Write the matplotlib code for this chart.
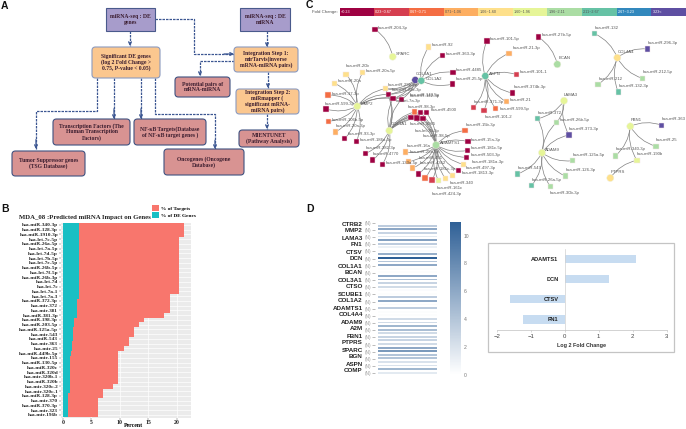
import numpy as np
import matplotlib
matplotlib.use("Agg")
import matplotlib.pyplot as plt
from matplotlib.colors import LinearSegmentedColormap, Normalize
from matplotlib.patches import FancyBboxPatch, Rectangle
from matplotlib.cm import ScalarMappable

W, H = 686, 429
SERIF = "Liberation Serif"
SANS = "Liberation Sans"

# ---- panel B data
mir_names = ["hsa-miR-340-3p", "hsa-miR-128-3p", "hsa-miR-1910-3p", "hsa-let-7c-5p", "hsa-miR-26a-5p",
             "hsa-let-7a-5p", "hsa-let-7d-5p", "hsa-let-7b-5p", "hsa-let-7e-5p", "hsa-miR-26b-5p",
             "hsa-let-7f-5p", "hsa-miR-26b-3p", "hsa-let-7d", "hsa-let-7c", "hsa-let-7a-1", "hsa-let-7a-3",
             "hsa-miR-372-3p", "hsa-mir-372", "hsa-mir-381", "hsa-miR-381-3p", "hsa-miR-198-3p",
             "hsa-miR-203-5p", "hsa-miR-125a-5p", "hsa-mir-543", "hsa-miR-543", "hsa-mir-363", "hsa-mir-25",
             "hsa-miR-449b-5p", "hsa-mir-155", "hsa-miR-130-5p", "hsa-miR-320c", "hsa-miR-320d",
             "hsa-mir-320b-1", "hsa-miR-320b", "hsa-mir-320c-2", "hsa-mir-320c-1", "hsa-miR-128-3p",
             "hsa-mir-370", "hsa-miR-370-3p", "hsa-mir-323", "hsa-mir-196b"]
pct_targets_end = [21.3, 21.3, 21.3, 20.5, 20.5, 20.5, 20.5, 20.5, 20.5, 20.5, 20.5, 20.5, 20.5, 20.5, 20.5,
                   18.8, 18.8, 18.8, 18.8, 17.8, 14.2, 13.4, 12.5, 12.5, 11.6, 11.6, 10.7, 9.7, 9.7, 9.7,
                   9.7, 9.7, 9.7, 9.7, 8.8, 7.0, 7.0, 6.1, 6.1, 6.1, 6.1]
pct_de_genes = [2.9, 2.9, 2.9, 2.9, 2.9, 2.9, 2.9, 2.9, 2.9, 2.75, 2.75, 2.75, 2.75, 2.75, 2.75, 2.75,
                2.45, 2.45, 2.45, 2.45, 2.0, 1.9, 1.8, 1.8, 1.7, 1.6, 1.55, 1.4, 1.3, 1.25,
                1.25, 1.25, 1.25, 1.25, 1.2, 1.15, 0.95, 0.8, 0.8, 0.8, 0.8]

# ---- panel D data
heat_genes = ["CTRB2", "MMP2", "LAMA3", "FN1", "CTSV", "DCN", "COL1A1", "BCAN", "COL3A1", "CTSO", "SCUBE1",
              "COL1A2", "ADAMTS1", "COL4A4", "ADAM9", "A2M", "FBN1", "PTPRS", "SPARC", "BGN", "ASPN", "COMP"]
heat_values = [3.5, 6, 3, 1.5, 6.5, 3.5, 1, 0.3, 5.5, 11, 4, 6, 0.2, 0.2, 6, 4.5, 3, 2.5, 0.3, 0.2, 3.5,
               6, 0.3, 3.5, 0.2, 0.2, 2.5, 2.5, 5, 4.5, 2.5, 3, 3, 2.5, 6, 7, 4, 4, 2, 2, 5, 1.5]
fc_genes = ["ADAMTS1", "DCN", "CTSV", "FN1"]
fc_values = [2.1, 1.3, -1.6, -1.23]

# ---- panel C data
fold_labels = ["<0.23", "0.23~0.67", "0.67~0.71", "0.71~1.06", "1.06~1.60", "1.60~1.96", "1.96~2.11",
               "2.11~2.67", "2.67~3.23", "3.23<"]
fold_colors = ["#9E0142", "#D53E4F", "#F46D43", "#FDAE61", "#FEE08B", "#E6F598", "#ABDDA4", "#66C2A5",
               "#3288BD", "#5E4FA2"]

gene_names = ["SPARC", "COL3A1", "COL1A2", "MMP2", "COL1A1", "ADAMTS1", "ASPN", "BCAN", "COL4A4", "LAMA3",
              "ADAM9", "FBN1", "PTPRS"]
gene_x = [392.7, 415.3, 421.3, 357.3, 389.3, 436, 485.3, 557.3, 617.3, 564, 542, 630.3, 610.3]
gene_y = [56.7, 80, 80.7, 106.3, 130.7, 145, 76, 64.3, 57.7, 100.7, 152.7, 126.3, 178]
gene_bin = [5, 9, 7, 5, 5, 6, 7, 6, 4, 5, 5, 5, 4]
gene_lx = [396, 416, 425.7, 361, 390.7, 440, 489, 558.3, 618, 564, 545.3, 630.3, 610.7]
gene_ly = [54, 73.7, 79.3, 103.7, 124.3, 142.7, 73.7, 58.3, 52, 95, 150, 120.3, 172]

node_names = ["hsa-miR-204-3p", "hsa-miR-92", "hsa-miR-363-3p", "hsa-miR-4485", "hsa-miR-25-5p",
              "hsa-miR-20b", "hsa-miR-20a-5p", "hsa-miR-20a", "hsa-miR-17-3p", "hsa-miR-599-3p",
              "hsa-miR-106b-5p", "hsa-miR-20a-3p", "hsa-miR-93-3p", "hsa-miR-186a-3p",
              "hsa-miR-382-3p", "hsa-miR-4770", "hsa-miR-133a-5p",
              "hsa-miR-29b-3p", "hsa-miR-29c-3p", "hsa-miR-143-5p", "hsa-let-7a-3p", "hsa-miR-98-3p",
              "hsa-miR-4500", "hsa-miR-3065", "hsa-let-7b-3p", "hsa-miR-98-5p", "hsa-miR-142-3p",
              "hsa-miR-15b-3p", "hsa-miR-15a-3p", "hsa-miR-181c-5p", "hsa-miR-503-3p", "hsa-miR-181a-3p",
              "hsa-miR-497-3p", "hsa-miR-1813-3p", "hsa-miR-340", "hsa-miR-161c", "hsa-miR-424-3p",
              "hsa-miR-181c-3p", "hsa-miR-4352", "hsa-miR-491", "hsa-miR-25a-5p", "hsa-miR-16a",
              "hsa-miR-371-3p", "hsa-miR-101-2", "hsa-miR-599-5p", "hsa-miR-21", "hsa-miR-374b-3p",
              "hsa-miR-101-1", "hsa-miR-21-3p", "hsa-miR-101-5p", "hsa-miR-27b-5p",
              "hsa-miR-132", "hsa-miR-296-3p", "hsa-miR-212-5p", "hsa-miR-132-3p", "hsa-miR-212",
              "hsa-miR-372", "hsa-miR-26b-5p", "hsa-miR-373-3p", "hsa-miR-125a-5p", "hsa-miR-126-3p",
              "hsa-miR-30b-3p", "hsa-miR-26a-5p", "hsa-miR-543",
              "hsa-miR-363", "hsa-miR-25", "hsa-miR-340-3p", "hsa-miR-190b"]
node_x = [375, 428.7, 442.7, 453, 452.3, 346, 362.7, 334.3, 328, 326, 328.7, 335.3, 344.7, 356.3,
          365.7, 372.7, 382.3, 385.3, 388.3, 393, 401.7, 414.3, 426.3, 411, 417, 423, 420.3,
          465, 468, 467.7, 466.3, 463.3, 458.3, 452.3, 445.7, 438.3, 432, 425, 418.3, 412.7, 408.3, 405.7,
          473.7, 484, 495.7, 506.3, 512.7, 516.7, 509, 487, 538.3,
          594.7, 647.3, 642.3, 618.3, 598, 537.7, 556.7, 569, 572.3, 565.3, 550.3, 531.7, 517.3,
          661.7, 656, 615.3, 637]
node_y = [29.3, 47, 55.3, 72.3, 84, 74.3, 72.7, 83.3, 95, 109, 121.3, 132, 138.7, 141.7,
          153.3, 160, 164.3, 88.7, 94.3, 98.7, 99.3, 112, 112.7, 117.3, 118, 118.3, 112.3,
          130.7, 141.7, 150.3, 157.3, 164.3, 170.7, 175.7, 178.7, 180.3, 180, 178, 174, 168, 161.7, 152,
          107.3, 110.3, 108.3, 101.7, 93, 74.7, 53.3, 41, 37,
          33.7, 49, 78.3, 92, 84.3, 118.7, 122.3, 135, 160.7, 176, 186.3, 185.3, 174,
          125.3, 146.3, 156, 160.3]
node_bin = [0, 4, 0, 0, 0, 4, 4, 4, 2, 0, 2, 3, 0, 0,
            0, 0, 0, 4, 0, 0, 0, 2, 0, 0, 0, 0, 0,
            2, 0, 0, 0, 4, 0, 4, 4, 5, 1, 2, 0, 3, 3, 3,
            1, 1, 2, 3, 0, 1, 3, 0, 0,
            7, 9, 6, 7, 6, 7, 6, 9, 6, 6, 6, 7, 7,
            9, 6, 6, 5]
node_lx = [378, 432, 446, 456, 456, 346, 366, 337.3, 331.3, 324.3, 332, 336, 348, 359.7,
           366, 373, 385.7, 387.7, 391.7, 410, 396, 408, 430.7, 410, 415, 422.3, 410,
           465.3, 471, 471, 471, 471.7, 465.7, 461.7, 449.3, 436.7, 431.7, 423.3, 420, 418.3, 409.3, 406.7,
           474, 485, 499.3, 510, 513.3, 520, 512.3, 490, 542,
           595, 647.7, 642.7, 618.3, 598.3, 538, 560, 569, 572.3, 565.3, 550, 531.7, 517.7,
           662, 656, 616, 637]
node_ly = [27.7, 45.3, 53.7, 70, 79, 65.7, 71, 81.3, 93.7, 103.7, 119.7, 126, 133.7, 140,
           148, 154, 163, 85, 90, 94.7, 101, 106.7, 109.7, 124.3, 130.7, 136.3, 96,
           124.7, 139.7, 147.7, 155, 161.7, 167.7, 173, 182.7, 188.3, 194, 169.3, 163.3, 157.7, 152, 146.3,
           101.7, 117.3, 108.7, 99.7, 87, 72.3, 48, 39, 35,
           28.3, 42.7, 72.3, 86, 78.7, 113, 120, 128.7, 155, 170.3, 193, 179.7, 168.3,
           119.3, 140.3, 149, 154.3]
# which gene each miRNA is drawn to
node_gene = ["SPARC", "COL1A2", "COL1A2", "COL1A2", "COL1A2", "MMP2", "MMP2", "MMP2", "MMP2", "MMP2",
             "MMP2", "MMP2", "MMP2", "MMP2", "COL1A1", "COL1A1", "COL1A1",
             "COL1A1", "COL1A1", "COL1A1", "COL1A1", "COL1A1", "COL1A1", "COL1A1", "COL1A1", "COL1A1", "COL1A1",
             "ADAMTS1", "ADAMTS1", "ADAMTS1", "ADAMTS1", "ADAMTS1", "ADAMTS1", "ADAMTS1", "ADAMTS1", "ADAMTS1",
             "ADAMTS1", "ADAMTS1", "ADAMTS1", "ADAMTS1", "ADAMTS1", "ADAMTS1",
             "ASPN", "ASPN", "ASPN", "ASPN", "ASPN", "ASPN", "ASPN", "ASPN", "BCAN",
             "COL4A4", "COL4A4", "COL4A4", "COL4A4", "COL4A4",
             "LAMA3", "ADAM9", "ADAM9", "ADAM9", "ADAM9", "ADAM9", "ADAM9", "ADAM9",
             "FBN1", "FBN1", "FBN1", "FBN1"]
extra_from = ["hsa-miR-29b-3p", "hsa-miR-29c-3p", "hsa-miR-143-5p", "hsa-let-7a-3p", "hsa-miR-29b-3p",
              "hsa-miR-29c-3p", "hsa-miR-143-5p", "hsa-let-7a-3p", "hsa-miR-29b-3p", "hsa-miR-29c-3p",
              "hsa-miR-143-5p", "hsa-miR-98-3p", "hsa-miR-142-3p", "hsa-miR-4500", "hsa-miR-3065",
              "hsa-let-7b-3p", "hsa-miR-98-5p", "hsa-miR-372", "hsa-miR-373-3p", "hsa-miR-26b-5p",
              "hsa-miR-190b"]
extra_to = ["COL3A1", "COL3A1", "COL3A1", "COL3A1", "MMP2", "MMP2", "MMP2", "MMP2", "COL1A2", "COL1A2",
            "COL1A2", "ADAMTS1", "ADAMTS1", "ADAMTS1", "ADAMTS1", "ADAMTS1", "ADAMTS1", "ADAM9", "LAMA3",
            "LAMA3", "PTPRS"]

# ---- panel A flow chart
flow_texts = ["miRNA-seq : DE\ngenes", "miRNA-seq : DE\nmiRNA",
              "Significant DE genes\n(log 2 Fold Change >\n0.75, P-value < 0.05)",
              "Integration Step 1:\nmirTarvis(inverse\nmRNA-miRNA pairs)", "Potential pairs of\nmRNA-miRNA",
              "Integration Step 2:\nmiRmapper (\nsignificant mRNA-\nmiRNA pairs)",
              "MIENTUNET\n(Pathway Analysis)", "Transcription Factors (The\nHuman Transcription\nFactors)",
              "NF-\u03baB Targets(Database\nof NF-\u03baB target genes )", "Tumor Suppressor genes\n(TSG Database)",
              "Oncogenes (Oncogene\nDatabase)"]
flow_boxes = [(106, 8, 155, 31), (240, 8, 290, 31), (92, 47, 160, 78), (234, 47, 298, 72), (175, 77, 230, 97),
              (236, 89, 299, 114), (239, 130, 299, 147), (53, 119, 130, 145), (134, 119, 206, 145),
              (12, 151, 85, 176), (164, 149, 244, 175)]
flow_kinds = ["seq", "seq", "step", "step", "out", "step", "out", "out", "out", "out", "out"]
flow_paths = [[(130, 31), (130, 46)], [(155, 19), (194, 19), (194, 54), (234, 54)], [(267, 31), (267, 47)],
              [(234, 61), (200, 61), (200, 76)], [(268, 72), (268, 88)], [(267, 114), (267, 129)],
              [(97, 78), (97, 111), (36, 111), (36, 149)], [(114, 78), (114, 119)], [(141, 78), (141, 119)],
              [(155, 78), (155, 114), (215, 114), (215, 149)]]


def px_axes(fig, x0, y0, x1, y1):
    return fig.add_axes([x0 / W, 1 - y1 / H, (x1 - x0) / W, (y1 - y0) / H])


def draw_flow(ax):
    fills = {"seq": ("#A79CCB", "#4A5A8C"), "step": ("#FBC78F", "#8C9BBF"), "out": ("#D89392", "#3F5180")}
    for path in flow_paths:
        xs = [p[0] for p in path]
        ys = [p[1] for p in path]
        ax.plot(xs, ys, color="#3C5792", lw=0.9, ls=(0, (2, 0.8)))
        ax.annotate("", xy=path[-1], xytext=(xs[-2] + 0.75 * (xs[-1] - xs[-2]), ys[-2] + 0.75 * (ys[-1] - ys[-2])),
                    arrowprops=dict(arrowstyle="->", color="#3C5792", lw=0.9, mutation_scale=5,
                                    shrinkA=0, shrinkB=0))
    for text, box, kind in zip(flow_texts, flow_boxes, flow_kinds):
        x0, y0, x1, y1 = box
        fc, ec = fills[kind]
        pad = 0 if kind == "seq" else 3
        ax.add_patch(FancyBboxPatch((x0 + pad, y0 + pad), x1 - x0 - 2 * pad, y1 - y0 - 2 * pad,
                                    boxstyle=f"round,pad={pad},rounding_size={pad + 0.5}" if pad else "square,pad=0",
                                    fc=fc, ec=ec, lw=0.8, zorder=3))
        ax.text((x0 + x1) / 2, (y0 + y1) / 2, text, ha="center", va="center", fontsize=4.1,
                family=SERIF, weight="bold", color="#3A1C2E", linespacing=1.15, zorder=4)


def draw_network(ax):
    seg = (686 - 339.7) / 10
    for i, (lab, col) in enumerate(zip(fold_labels, fold_colors)):
        ax.barh(12, seg, height=8, left=339.7 + i * seg, color=col)
        txt = "white" if i in (0, 1, 2, 8, 9) else "#555555"
        ax.text(340.7 + i * seg, 12, lab, fontsize=2.7, family=SANS, color=txt, va="center")
    ax.text(338, 12, "Fold Change:", fontsize=3.2, family=SANS, color="#555555", va="center", ha="right")

    pos = {n: (x, y) for n, x, y in zip(gene_names, gene_x, gene_y)}
    pos.update({n: (x, y) for n, x, y in zip(node_names, node_x, node_y)})
    links = list(zip(node_names, node_gene)) + list(zip(extra_from, extra_to))
    for a, b in links:
        xa, ya = pos[a]
        xb, yb = pos[b]
        rad = 0.2 if (xa - xb) * (ya - yb) < 0 else -0.2
        ax.annotate("", xy=(xb, yb), xytext=(xa, ya),
                    arrowprops=dict(arrowstyle="-", color="#808080", lw=0.5, shrinkA=0, shrinkB=0,
                                    connectionstyle=f"arc3,rad={rad}"), zorder=2)
    ax.scatter(node_x, node_y, s=16, marker="s", c=[fold_colors[b] for b in node_bin],
               edgecolors="#F3E6EA", linewidths=0.35, zorder=3)
    ax.scatter(gene_x, gene_y, s=26, marker="o", c=[fold_colors[b] for b in gene_bin],
               edgecolors="#F0F0E0", linewidths=0.35, zorder=3)
    for n, x, y in zip(node_names + gene_names, node_lx + gene_lx, node_ly + gene_ly):
        ax.text(x, y, n, fontsize=3.1, family=SANS, color="#555555", va="center", zorder=4)


def draw_targets(fig):
    ax = px_axes(fig, 61, 223, 191, 417.5)
    rows = np.arange(len(mir_names))
    ax.set_facecolor("#EBEBEB")
    ax.barh(rows, pct_targets_end, height=1, color="#F8766D", label="% of Targets", zorder=2)
    ax.barh(rows, pct_de_genes, height=1, color="#19BFC4", label="% of DE Genes", zorder=3)
    ax.set_xlim(-0.35, 22.53)
    ax.set_ylim(40.56, -0.42)
    ax.grid(color="white", lw=0.5, zorder=1)
    ax.set_axisbelow(True)
    for side in ax.spines.values():
        side.set_visible(False)
    ax.set_yticks(rows, mir_names, fontsize=3.8, family=SERIF, weight="bold", color="#222222")
    ax.set_xticks([0, 5, 10, 15, 20], ["0", "5", "10", "15", "20"], fontsize=4.2, family=SERIF, weight="bold",
                  color="#222222")
    ax.tick_params(axis="both", length=1.2, width=0.3, pad=0.8, color="#444444")
    ax.set_xlabel("Percent", fontsize=4.2, family=SERIF, weight="bold", va="center")
    ax.xaxis.set_label_coords(0.56, -0.0415)
    fig.text(85 / W, 1 - 217 / H, "MDA_08 :Predicted miRNA Impact on Genes", fontsize=4.9, family=SERIF,
             weight="bold", color="#222222", ha="center", va="center")
    ax.legend(loc="lower left", bbox_to_anchor=(149 / W, 1 - 220.5 / H), bbox_transform=fig.transFigure,
              frameon=False, borderpad=0, labelspacing=0.18, handlelength=1.3, handleheight=1.3, handletextpad=0.4,
              prop=dict(family=SERIF, weight="bold", size=3.8))


def draw_heat(fig):
    cmap = LinearSegmentedColormap.from_list("heat", ["#FFFFFF", "#2F6096"])
    norm = Normalize(0, 11)
    ax = px_axes(fig, 375, 221.7, 437, 375)
    rows = np.arange(len(heat_values))
    ax.barh(rows, np.ones(len(rows)), height=0.52, color=cmap(norm(heat_values)))
    ax.set_xlim(-3 / 59, 1)
    ax.set_ylim(41.65, -1.116)
    for side in ax.spines.values():
        side.set_visible(False)
    ax.set_xticks([])
    tick_rows = -0.84 + 2 * np.arange(len(heat_genes))
    ax.set_yticks(tick_rows, ["(N)"] * len(heat_genes), fontsize=3.4, family=SANS, color="#999999")
    ax.tick_params(axis="y", length=2, width=0.4, pad=0.5, color="#888888")
    for gene, y in zip(heat_genes, np.linspace(224, 371, len(heat_genes))):
        fig.text(362.7 / W, 1 - y / H, gene, fontsize=4.5, family=SANS, weight="bold", color="#222222",
                 ha="right", va="center")

    cax = px_axes(fig, 449.7, 221.7, 461.3, 374.7)
    cb = fig.colorbar(ScalarMappable(norm, cmap), cax=cax)
    cb.outline.set_visible(False)
    cb.set_ticks([0, 2, 4, 6, 8, 10])
    cb.ax.tick_params(length=0, pad=1.5, labelsize=3.6, labelcolor="#777777")
    for t in cb.ax.get_yticklabels():
        t.set_family(SANS)


def draw_fold(fig, canvas):
    canvas.add_patch(Rectangle((487.7, 243.3), 186, 109, fc="white", ec="#C4C4C4", lw=0.9, zorder=1))
    ax = px_axes(fig, 496.7, 248.7, 666.7, 330)
    ax.patch.set_visible(False)
    rows = np.arange(len(fc_genes))
    ax.barh(rows, fc_values, height=0.41, color="#C7DCF1")
    ax.set_xlim(-2, 3)
    ax.set_ylim(3.52, -0.5)
    for name in ("top", "right"):
        ax.spines[name].set_visible(False)
    ax.spines["left"].set_position("zero")
    ax.spines["left"].set_color("#D0D0D0")
    ax.spines["bottom"].set_color("#C0C0C0")
    ax.spines["left"].set_linewidth(0.5)
    ax.spines["bottom"].set_linewidth(0.5)
    ax.set_yticks(rows, fc_genes, fontsize=4.1, family=SANS, weight="bold", color="#222222")
    ax.tick_params(axis="y", length=0, pad=4.5)
    ax.set_xticks(range(-2, 4))
    ax.tick_params(axis="x", length=1.2, width=0.4, pad=2, labelsize=4.3, labelcolor="#444444", color="#BBBBBB")
    for t in ax.get_xticklabels():
        t.set_family(SANS)
    ax.set_xlabel("Log 2 Fold Change", fontsize=3.9, family=SANS, weight="bold", color="#333333", labelpad=2.5)


def main():
    fig = plt.figure(figsize=(W / 100, H / 100), dpi=100, facecolor="white")
    canvas = fig.add_axes([0, 0, 1, 1])
    canvas.set_xlim(0, W)
    canvas.set_ylim(H, 0)
    canvas.axis("off")

    draw_flow(canvas)
    draw_network(canvas)
    draw_targets(fig)
    draw_heat(fig)
    draw_fold(fig, canvas)

    for lab, x, y in [("A", 1, 6), ("B", 1, 208.5), ("C", 306, 5), ("D", 306, 208.5)]:
        canvas.text(x, y, lab, fontsize=7.5, family=SANS, weight="bold", color="#111111", va="center")

    fig.savefig("out.png", dpi=100)


if __name__ == "__main__":
    main()
